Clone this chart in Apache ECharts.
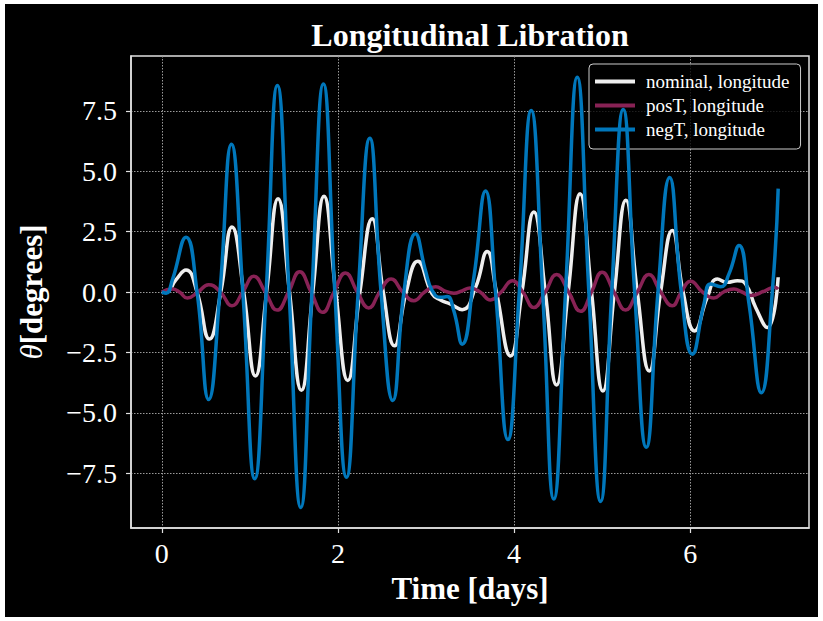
<!DOCTYPE html>
<html>
<head>
<meta charset="utf-8">
<script src="https://cdn.jsdelivr.net/npm/echarts@6/dist/echarts.min.js"></script>
<style>
  html, body { margin: 0; padding: 0; background: #ffffff; }
  #chart { position: absolute; left: 5px; top: 4px; width: 813px; height: 613px; background: #000; }
</style>
</head>
<body>
<div id="chart"></div>
<script>
// values (time in days, angle in degrees)
const nominalDays = [0, 0.06, 0.16, 0.275, 0.40, 0.54, 0.67, 0.797, 0.93, 1.063, 1.19, 1.32, 1.45, 1.585, 1.715, 1.842, 1.975, 2.112, 2.25, 2.389, 2.515, 2.642, 2.775, 2.907, 3.07, 3.165, 3.28, 3.411, 3.563, 3.695, 3.80, 3.96, 4.09, 4.225, 4.355, 4.483, 4.615, 4.75, 4.88, 5.009, 5.14, 5.27, 5.40, 5.536, 5.665, 5.797, 5.92, 6.051, 6.195, 6.309, 6.422, 6.536, 6.63, 6.744, 6.877, 7.0];
const nominalDeg  = [0, 0.02, 0.5, 0.91, 0, -1.95, 0, 2.69, 0, -3.48, 0, 3.86, 0, -4.07, 0, 3.96, 0, -3.66, 0, 3.03, 0, -2.23, 0, 1.27, -0.08, -0.33, -0.5, -0.73, 0.19, 1.68, 0, -2.65, 0, 3.31, 0, -3.85, 0, 4.07, 0, -4.1, 0, 3.8, 0, -3.27, 0, 2.55, 0, -1.61, -0.22, 0.54, 0.4, 0.47, 0.33, -0.64, -1.47, 0.61];

const posTDays = [0, 0.116, 0.20, 0.29, 0.41, 0.532, 0.665, 0.797, 0.92, 1.044, 1.175, 1.309, 1.44, 1.566, 1.695, 1.827, 1.955, 2.085, 2.22, 2.35, 2.475, 2.604, 2.735, 2.862, 2.985, 3.11, 3.21, 3.316, 3.41, 3.5, 3.615, 3.733, 3.855, 3.98, 4.10, 4.225, 4.355, 4.483, 4.62, 4.756, 4.88, 5.0, 5.135, 5.267, 5.40, 5.532, 5.665, 5.797, 5.90, 6.006, 6.14, 6.27, 6.38, 6.497, 6.59, 6.687, 6.85, 6.96, 7.0];
const posTDeg  = [0, 0.12, 0, -0.25, 0, 0.30, 0, -0.57, 0, 0.65, 0, -0.75, 0, 0.84, 0, -0.84, 0, 0.79, 0, -0.66, 0, 0.54, 0, -0.36, 0, 0.22, 0.05, -0.05, 0.05, 0.17, 0, -0.33, 0, 0.47, 0, -0.64, 0, 0.72, 0, -0.8, 0, 0.82, 0, -0.75, 0, 0.72, 0, -0.57, 0, 0.44, 0, -0.25, 0, 0.12, 0, -0.15, 0.05, 0.2, 0.12];

const negTDays = [0, 0.05, 0.12, 0.275, 0.40, 0.532, 0.66, 0.79, 0.92, 1.055, 1.185, 1.3125, 1.445, 1.578, 1.705, 1.835, 1.965, 2.097, 2.23, 2.362, 2.49, 2.623, 2.75, 2.881, 2.994, 3.07, 3.165, 3.24, 3.316, 3.411, 3.544, 3.676, 3.79, 3.93, 4.06, 4.195, 4.325, 4.452, 4.585, 4.718, 4.85, 4.983, 5.11, 5.24, 5.37, 5.502, 5.635, 5.767, 5.90, 6.025, 6.157, 6.233, 6.347, 6.441, 6.555, 6.669, 6.809, 6.934, 7.0];
const negTDeg  = [0, -0.05, 0.5, 2.27, 0, -4.45, 0, 6.12, 0, -7.73, 0, 8.55, 0, -8.92, 0, 8.61, 0, -7.67, 0, 6.36, 0, -4.49, 0, 2.41, 0.89, 0.06, -0.22, -0.19, -0.78, -2.16, 0.61, 4.18, 0, -6.11, 0, 7.51, 0, -8.57, 0, 8.89, 0, -8.67, 0, 7.56, 0, -6.43, 0, 4.74, 0, -2.58, -0.5, 0.33, 0.22, 0.75, 1.93, -0.5, -4.17, 0.05, 4.28];

const xTicks = [0, 2, 4, 6];
const yTicks = [-7.5, -5.0, -2.5, 0.0, 2.5, 5.0, 7.5];

const serif = '"Liberation Serif", "DejaVu Serif", serif';

function pairs(xs, ys) {
    return xs.map((x, i) => [x, ys[i]]);
}

let chart = echarts.init(document.getElementById('chart'), null, {renderer: 'svg'});

const gridLine = {show: true, lineStyle: {color: '#9a9a9a', width: 1, type: [1.5, 1.5]}};

let option = {
    animation: false,
    backgroundColor: '#000',
    title: {
        text: 'Longitudinal Libration',
        left: 460,
        top: 10,
        textAlign: 'center',
        textStyle: {color: '#fff', fontFamily: serif, fontWeight: 'bold', fontSize: 32}
    },
    legend: {
        orient: 'vertical',
        left: 584,
        top: 60,
        padding: [8, 11, 10, 6],
        itemGap: 5,
        itemWidth: 40,
        itemHeight: 4,
        icon: 'rect',
        backgroundColor: 'rgba(0,0,0,0.8)',
        borderColor: '#cccccc',
        borderWidth: 1,
        borderRadius: 4,
        textStyle: {color: '#fff', fontFamily: serif, fontSize: 19, padding: [0, 0, 0, 6]},
        data: ['nominal, longitude', 'posT, longitude', 'negT, longitude']
    },
    grid: {
        left: 126, top: 52, right: 9, bottom: 89,
        show: true, borderColor: '#e0e0e0', borderWidth: 1.5, backgroundColor: 'transparent'
    },
    xAxis: {
        type: 'value',
        min: -0.35, max: 7.35,
        name: 'Time [days]',
        nameLocation: 'middle',
        nameGap: 45,
        nameTextStyle: {color: '#fff', fontFamily: serif, fontWeight: 'bold', fontSize: 31},
        axisLine: {show: true, onZero: false, lineStyle: {color: '#e0e0e0', width: 1.5}},
        axisTick: {show: true, length: 5, customValues: xTicks, lineStyle: {color: '#e0e0e0', width: 1.2}},
        axisLabel: {customValues: xTicks, margin: 11, color: '#fff', fontFamily: serif, fontSize: 28,
            formatter: v => String(v)},
        splitLine: gridLine
    },
    yAxis: {
        type: 'value',
        min: -9.77, max: 9.77,
        name: '{th|θ}[degrees]',
        nameLocation: 'middle',
        nameGap: 84,
        nameRotate: 90,
        nameTextStyle: {color: '#fff', fontFamily: serif, fontWeight: 'bold', fontSize: 31,
            rich: {th: {fontStyle: 'italic', fontWeight: 'normal', fontFamily: serif, fontSize: 31, color: '#fff'}}},
        axisLine: {show: true, onZero: false, lineStyle: {color: '#e0e0e0', width: 1.5}},
        axisTick: {show: true, length: 5, customValues: yTicks, lineStyle: {color: '#e0e0e0', width: 1.2}},
        axisLabel: {customValues: yTicks, margin: 14, color: '#fff', fontFamily: serif, fontSize: 28,
            formatter: v => (v < 0 ? '\u2212' : '') + Math.abs(v).toFixed(1)},
        splitLine: gridLine
    },
    series: [
        {name: 'nominal, longitude', type: 'line', data: pairs(nominalDays, nominalDeg),
            smooth: 0.5, showSymbol: false, color: '#eeeeee', lineStyle: {width: 3.5}, z: 2},
        {name: 'posT, longitude', type: 'line', data: pairs(posTDays, posTDeg),
            smooth: 0.5, showSymbol: false, color: '#882255', lineStyle: {width: 3.5}, z: 3},
        {name: 'negT, longitude', type: 'line', data: pairs(negTDays, negTDeg),
            smooth: 0.5, showSymbol: false, color: '#0077bb', lineStyle: {width: 3.5}, z: 4}
    ]
};

chart.setOption(option);
</script>
</body>
</html>
